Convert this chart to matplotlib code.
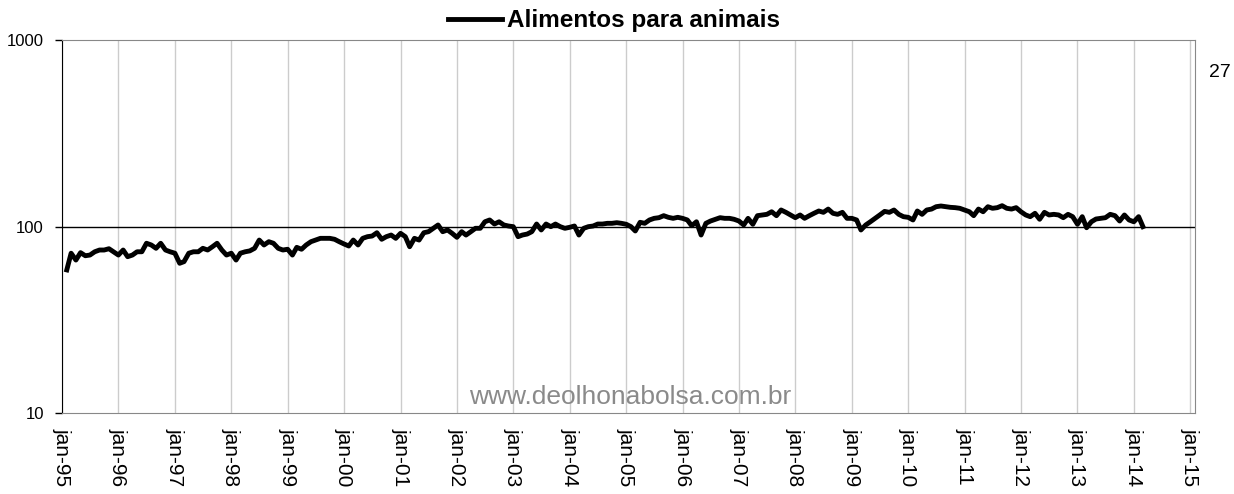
import matplotlib
matplotlib.use('Agg')
import matplotlib.pyplot as plt
import numpy as np
import pandas as pd
from matplotlib.ticker import FixedLocator, NullLocator, FuncFormatter

plt.rcParams['font.family'] = ['Liberation Sans', 'DejaVu Sans']

# monthly index, feb-95 .. mar-14
start = '1995-02-01'
values = [
    58.5, 71.9, 66.1, 72.4, 69.7, 70.3, 73.2, 74.8, 74.8, 76.0, 73.2, 70.3,
    74.8, 68.9, 70.3, 73.2, 73.2, 81.3, 79.6, 76.4, 81.3, 74.8, 73.2, 71.9,
    63.5, 64.8, 71.9, 73.2, 73.2, 76.4, 74.8, 77.9, 81.3, 74.8, 70.3, 71.9,
    66.1, 71.9, 73.2, 74.0, 76.4, 84.6, 79.6, 82.9, 81.3, 76.4, 74.8, 75.5,
    70.3, 77.3, 75.5, 79.6, 82.9, 84.6, 86.4, 86.4, 86.4, 85.4, 82.9, 80.6,
    78.6, 84.6, 79.6, 86.4, 88.2, 88.9, 92.6, 85.4, 88.2, 90.0, 86.4, 91.9,
    88.2, 77.9, 86.4, 84.6, 92.6, 93.8, 97.8, 101.9, 93.8, 95.8, 91.9, 87.5,
    93.8, 90.0, 93.8, 97.8, 97.8, 106.0, 108.4, 103.1, 106.0, 101.9, 100.6, 99.8,
    88.2, 90.0, 91.1, 93.8, 103.1, 95.8, 103.1, 99.8, 103.1, 99.8, 97.8, 99.0,
    100.6, 90.0, 97.8, 99.8, 100.6, 103.1, 103.1, 104.0, 104.0, 104.8, 104.0, 102.8,
    99.8, 94.6, 105.3, 104.0, 108.4, 110.6, 111.5, 114.3, 112.0, 110.6, 112.0, 110.6,
    108.4, 101.0, 106.0, 90.0, 104.0, 107.0, 109.3, 111.5, 110.6, 110.6, 109.3, 107.0,
    101.9, 110.6, 102.8, 114.3, 115.3, 116.2, 120.0, 114.3, 122.6, 119.1, 115.3, 111.5,
    115.3, 110.6, 114.3, 117.7, 121.1, 119.1, 124.0, 117.7, 116.2, 119.1, 110.6, 110.6,
    108.4, 95.8, 101.9, 106.0, 110.6, 115.3, 120.5, 119.1, 122.6, 116.2, 112.9, 112.0,
    108.4, 121.1, 116.2, 122.6, 124.0, 127.7, 128.8, 127.7, 126.7, 126.2, 125.2, 122.6,
    120.0, 114.3, 124.0, 120.0, 127.7, 125.2, 126.2, 129.3, 125.2, 124.0, 126.2, 120.0,
    115.3, 112.9, 117.7, 109.3, 119.1, 115.3, 116.2, 115.3, 111.5, 116.2, 112.9, 102.8,
    112.9, 98.5, 106.0, 109.7, 110.6, 111.5, 116.2, 114.3, 107.0, 115.3, 108.4, 106.0,
    112.9, 99.8,
]
years = list(range(1995, 2016))
tick_labels = ['jan-%02d' % (y % 100) for y in years]
y_ticks = [10, 100, 1000]

dates = pd.date_range(start, periods=len(values), freq='MS')

fig = plt.figure(figsize=(12.34, 4.94), dpi=100)
ax = fig.add_axes([62/1234, 1-413/494, (1195-62)/1234, (413-40)/494])

line, = ax.plot(dates, values, color='black', lw=3.5, solid_joinstyle='round',
                label='Alimentos para animais', zorder=3)
ax.axhline(100, color='black', lw=1, zorder=2)

ax.set_yscale('log')
ax.set_ylim(10, 1000)
ax.yaxis.set_major_locator(FixedLocator(y_ticks))
ax.yaxis.set_minor_locator(NullLocator())
ax.yaxis.set_major_formatter(FuncFormatter(lambda v, p: '%d' % v))
ax.tick_params(axis='y', length=5, width=1, pad=8, labelsize=12)

ticks = [pd.Timestamp('%d-01-01' % y) for y in years]
ax.set_xticks(ticks)
ax.set_xticklabels(tick_labels, rotation=270)
ax.xaxis.set_minor_locator(NullLocator())
ax.tick_params(axis='x', length=0, pad=11, labelsize=15)
ax.set_xlim(pd.Timestamp('1995-01-01'), pd.Timestamp('2015-02-01'))
ax.grid(axis='x', color='#cccccc', lw=1, zorder=1)

for s in ['top', 'bottom', 'right']:
    ax.spines[s].set_color('#888888')
ax.spines['left'].set_color('black')

fig.legend(handles=[line], loc='center', bbox_to_anchor=(0.4975, 0.958),
           frameon=False, handlelength=2.25, handletextpad=0.2,
           prop={'weight': 'bold', 'size': 17.5})

fig.text(630/1234, 1-397/494, 'www.deolhonabolsa.com.br', color='#8a8a8a',
         size=19, ha='center', va='center')
fig.text(1209/1234, 1-72/494, '27', size=14, ha='left', va='center')

plt.savefig('out.png', dpi=100)
